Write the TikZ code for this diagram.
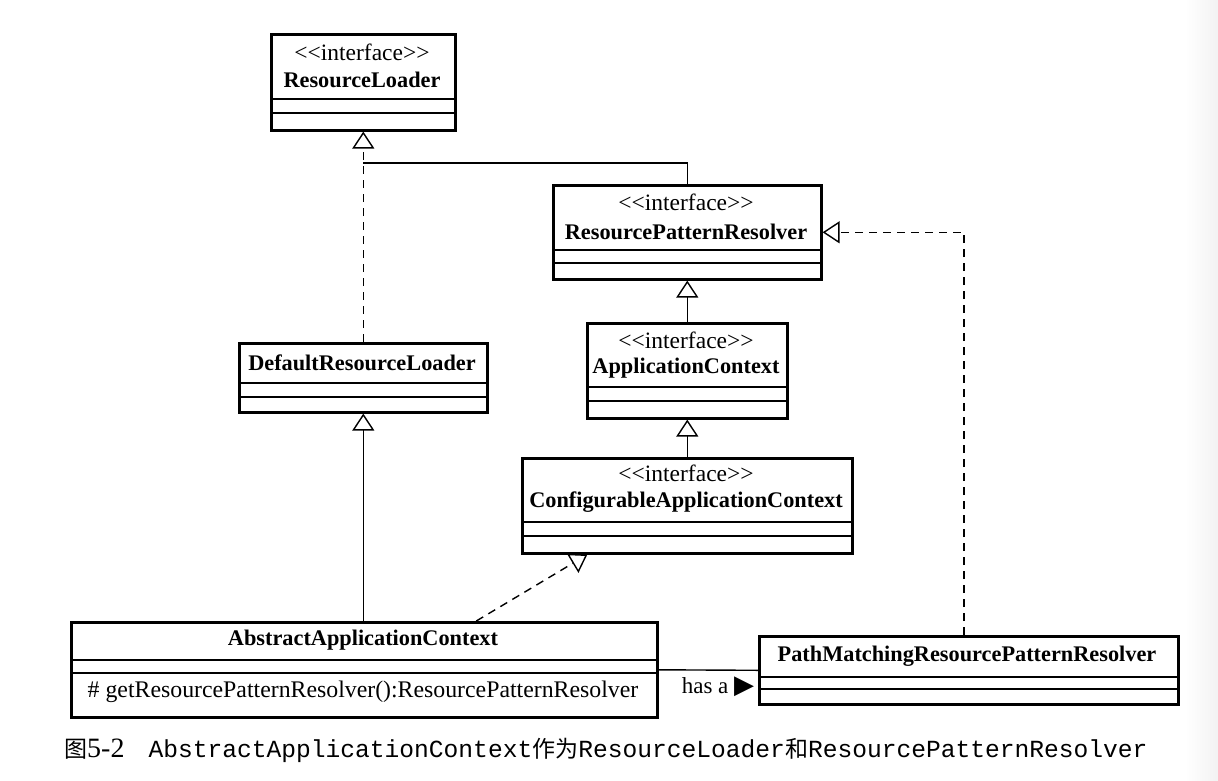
\documentclass[tikz,border=0pt]{standalone}
\usepackage{fontspec}
\setmainfont{Liberation Serif}
\setmonofont{Liberation Mono}
\newfontfamily\cjkfont{Noto Sans CJK SC}
\newfontfamily\symfont{DejaVu Sans}
\usetikzlibrary{arrows.meta}
\newcommand\stereotype[1]{<\kern0pt<#1>\kern0pt>}
\tikzset{
	uml/.cd,
	class/.style = {
		draw,
		line width = 2.6pt,
		inner sep = 0,
		anchor = north west
	},
	sep/.style = {line width = 1.2pt},
	stereo/.style = {font = \fontsize{23.5}{28}\selectfont},
	name/.style = {font = \fontsize{22.3}{27}\bfseries},
	method/.style = {font = \fontsize{23.8}{28}\selectfont},
	line/.style = {line width = 1.4pt},
	inherit/.style = {
		line width = 1.4pt,
		-{Triangle[open, length = 17pt, width = 22pt]}
	},
	realize/.style = {
		uml/inherit,
		dash pattern = on 8pt off 6pt
	},
}

\begin{document}
\begin{tikzpicture}[x = 1pt, y = -1pt]
	\useasboundingbox (0, 0) rectangle (1218, 780);
	\fill[left color = white, right color = black!5, draw = none] (1185, 0) rectangle (1218, 780);

	% classes
	\node[uml/class, minimum width = 184, minimum height = 96] (rl) at (270, 33) {};
	\node[uml/class, minimum width = 268, minimum height = 94] (rpr) at (552, 184) {};
	\node[uml/class, minimum width = 200, minimum height = 95] (ac) at (586, 322) {};
	\node[uml/class, minimum width = 330, minimum height = 95] (cac) at (521, 457) {};
	\node[uml/class, minimum width = 248, minimum height = 69] (drl) at (238, 342) {};
	\node[uml/class, minimum width = 586, minimum height = 95] (aac) at (70, 621) {};
	\node[uml/class, minimum width = 419, minimum height = 68] (pmrpr) at (758, 635) {};
	\foreach \c/\y in {rl/99, rl/113, rpr/250, rpr/263, ac/387, ac/401, cac/522, cac/536,
			drl/383, drl/397, aac/660, aac/673, pmrpr/677, pmrpr/689}
		\draw[uml/sep] (\c.west |- 0, \y) -- (\c.east |- 0, \y);

	\begin{scope}[anchor = center]
		\node[uml/stereo] (rl-s) at (362, 52) {\stereotype{interface}};
		\node[uml/name] (rl-n) at (362, 80) {ResourceLoader};
		\node[uml/stereo] (rpr-s) at (686, 202) {\stereotype{interface}};
		\node[uml/name] (rpr-n) at (686, 232) {ResourcePatternResolver};
		\node[uml/stereo] (ac-s) at (686, 340) {\stereotype{interface}};
		\node[uml/name] (ac-n) at (686, 368) {ApplicationContext};
		\node[uml/stereo] (cac-s) at (686, 473) {\stereotype{interface}};
		\node[uml/name] (cac-n) at (686, 502) {ConfigurableApplicationContext};
		\node[uml/name] (drl-n) at (362, 363) {DefaultResourceLoader};
		\node[uml/name] (aac-n) at (363, 640) {AbstractApplicationContext};
		\node[uml/method] (aac-m) at (363, 692) {\# getResourcePatternResolver():ResourcePatternResolver};
		\node[uml/name] (pmrpr-n) at (967, 656) {PathMatchingResourcePatternResolver};
	\end{scope}

	% relations
	\coordinate (merge) at (rl.south |- 0, 163);
	\draw[uml/realize] (drl.north) -- (rl.south);
	\draw[uml/line] (rpr.north) |- (merge);
	\draw[uml/inherit] (ac.north) -- (rpr.south);
	\draw[uml/inherit] (cac.north) -- (ac.south);
	\draw[uml/inherit] (aac.north -| drl.south) -- (drl.south);
	\draw[uml/realize] ([xshift = 112pt]aac.north) -- ([xshift = -100pt]cac.south);
	\draw[uml/realize] ([xshift = -5pt]pmrpr.north) |- (rpr.east);
	\draw[uml/line] (aac.east) -- (pmrpr.west);
	\node[uml/method, font = \fontsize{23}{28}\selectfont] (hasa) at (718, 687) {has a {\symfont\fontsize{26}{28}\selectfont ▶}};

	\node[anchor = west, inner sep = 0] (caption) at (64, 750)
		{{\cjkfont\fontsize{23}{28}\selectfont 图}{\fontsize{28}{32}\selectfont 5-2}\hspace{24pt}%
		{\ttfamily\fontsize{24.6}{30}\selectfont AbstractApplicationContext}%
		{\cjkfont\fontsize{23}{28}\selectfont 作为}%
		{\ttfamily\fontsize{24.6}{30}\selectfont ResourceLoader}%
		{\cjkfont\fontsize{23}{28}\selectfont 和}%
		{\ttfamily\fontsize{24.6}{30}\selectfont ResourcePatternResolver}};
\end{tikzpicture}
\end{document}
